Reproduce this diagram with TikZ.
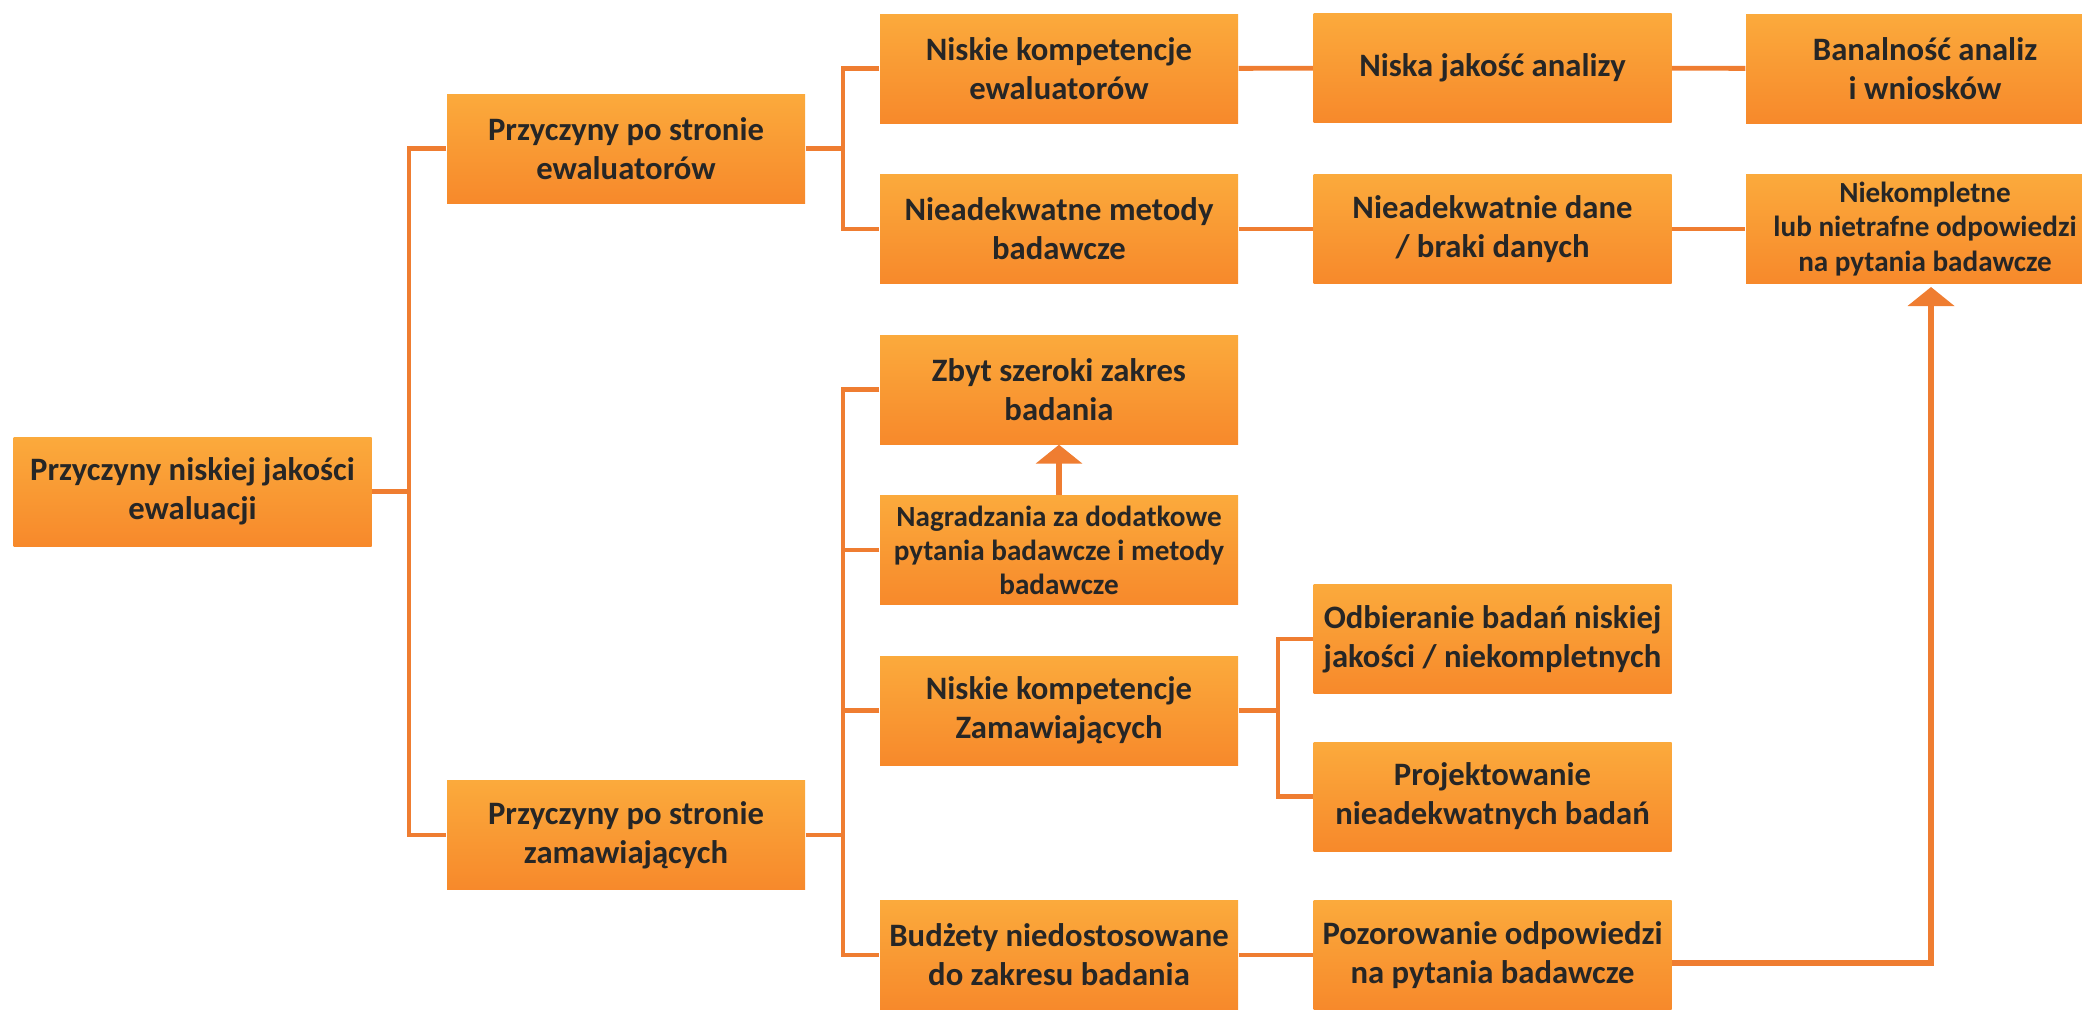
\documentclass[tikz,border=0pt]{standalone}
\usepackage{fontspec}
\setmainfont{Carlito}
\usetikzlibrary{arrows.meta}
\definecolor{boxtop}{HTML}{FBAA3C}
\definecolor{boxbot}{HTML}{F7892B}
\definecolor{linecol}{HTML}{EF7D31}
\definecolor{textcol}{HTML}{262626}
\tikzset{
  cause/.style = {rectangle, top color=boxtop, bottom color=boxbot, draw=none,
    minimum width=3.58cm, minimum height=1.09cm, inner sep=0pt, align=center,
    text=textcol, font=\fontsize{9.3}{11.1}\selectfont\bfseries},
  smalltext/.style = {font=\fontsize{8.3}{9.7}\selectfont\bfseries},
  link/.style = {draw=linecol, line width=1.4pt},
  arrow/.style = {draw=linecol, line width=1.8pt, -{Triangle[width=0.46cm,length=0.19cm]}}
}
\begin{document}
\begin{tikzpicture}
        \useasboundingbox (0,0) rectangle (20.82,-10.09);
        %nodes
        \node[cause] (root) at (1.925, -4.915) {Przyczyny niskiej jakości\\ewaluacji};
        \node[cause] (eval) at (6.26, -1.485) {Przyczyny po stronie\\ewaluatorów};
        \node[cause] (zam) at (6.26, -8.35) {Przyczyny po stronie\\zamawiających};
        \node[cause] (kompEw) at (10.59, -0.685) {Niskie kompetencje\\ewaluatorów};
        \node[cause] (metody) at (10.59, -2.29) {Nieadekwatne metody\\badawcze};
        \node[cause] (zbyt) at (10.59, -3.895) {Zbyt szeroki zakres\\badania};
        \node[cause, smalltext] (nagr) at (10.59, -5.50) {Nagradzania za dodatkowe\\pytania badawcze i metody\\badawcze};
        \node[cause] (kompZam) at (10.59, -7.105) {Niskie kompetencje\\Zamawiających};
        \node[cause] (budzety) at (10.59, -9.55) {Budżety niedostosowane\\do zakresu badania};
        \node[cause] (niska) at (14.925, -0.68) {Niska jakość analizy};
        \node[cause] (dane) at (14.925, -2.29) {Nieadekwatnie dane\\/ braki danych};
        \node[cause] (odbier) at (14.925, -6.39) {Odbieranie badań niskiej\\jakości / niekompletnych};
        \node[cause] (proj) at (14.925, -7.965) {Projektowanie\\nieadekwatnych badań};
        \node[cause] (pozor) at (14.925, -9.55) {Pozorowanie odpowiedzi\\na pytania badawcze};
        \node[cause] (banal) at (19.25, -0.685) {Banalność analiz\\i wniosków};
        \node[cause, smalltext] (niekomp) at (19.25, -2.29) {Niekompletne\\lub nietrafne odpowiedzi\\na pytania badawcze};
        %junctions
        \coordinate (j1) at (4.09, -4.915);
        \coordinate (j2) at (8.43, -1.485);
        \coordinate (j3) at (8.43, -8.35);
        \coordinate (j4) at (12.78, -7.105);
        \coordinate (k) at (19.31, -2.87);
        %edges
        \path [link] (root) to (j1);
        \path [link] (eval.west) -| (j1) |- (zam.west);
        \path [link] (eval) to (j2);
        \path [link] (kompEw.west) -| (j2) |- (metody.west);
        \path [link] (zam) to (j3);
        \path [link] (zbyt.west) -| (j3) |- (budzety.west);
        \path [link] (nagr.west) to (nagr.west -| j3);
        \path [link] (kompZam.west) to (kompZam.west -| j3);
        \path [link] (kompZam) to (j4);
        \path [link] (odbier.west) -| (j4) |- (proj.west);
        \path [link] (kompEw) to (niska);
        \path [link] (niska) to (banal);
        \path [link] (metody) to (dane);
        \path [link] (dane) to (niekomp);
        \path [link] (budzety) to (pozor);
        \path [arrow] (nagr) to (zbyt);
        \path [arrow] ([yshift=-0.08cm]pozor.east) -| (k);
      \end{tikzpicture}
\end{document}
